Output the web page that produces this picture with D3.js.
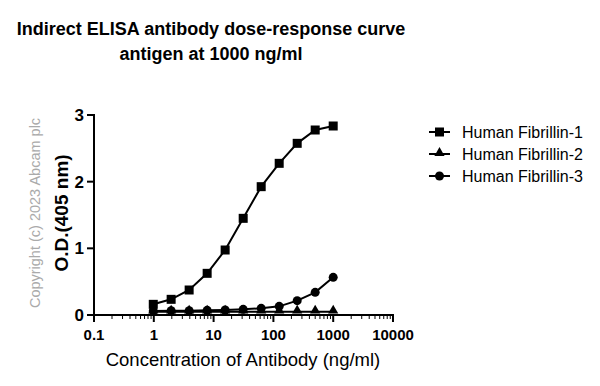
<!DOCTYPE html>
<html>
<head>
<meta charset="utf-8">
<script src="https://cdn.jsdelivr.net/npm/d3@7"></script>
<style>
body { margin: 0; background: #fff; }
text { font-family: "Liberation Sans", Arial, sans-serif; }
</style>
</head>
<body>
<svg id="chart" width="600" height="386"></svg>
<script>
// antibody concentrations (ng/ml), 2-fold dilutions from 1000
var conc = [0.98, 1.95, 3.9, 7.8, 15.6, 31.25, 62.5, 125, 250, 500, 1000];
var fib1 = [0.16, 0.235, 0.375, 0.625, 0.975, 1.45, 1.925, 2.275, 2.575, 2.775, 2.835];
var fib2 = [0.05, 0.05, 0.05, 0.05, 0.05, 0.05, 0.05, 0.05, 0.05, 0.05, 0.05];
var fib3 = [0.06, 0.065, 0.065, 0.07, 0.075, 0.085, 0.1, 0.13, 0.215, 0.34, 0.565];
var seriesNames = ["Human Fibrillin-1", "Human Fibrillin-2", "Human Fibrillin-3"];
var seriesShapes = ["square", "triangle", "circle"];
var xTicks = [0.1, 1, 10, 100, 1000, 10000];
var yTicks = [0, 1, 2, 3];

var svg = d3.select("#chart");

var x = d3.scaleLog().domain([0.1, 10000]).range([94, 393]);
var y = d3.scaleLinear().domain([0, 3]).range([315, 115]);

// titles
svg.append("text").attr("x", 211).attr("y", 35).attr("text-anchor", "middle")
    .style("font-size", "18px").style("font-weight", "bold")
    .text("Indirect ELISA antibody dose-response curve");
svg.append("text").attr("x", 211).attr("y", 60).attr("text-anchor", "middle")
    .style("font-size", "18px").style("font-weight", "bold")
    .text("antigen at 1000 ng/ml");

// x axis with minor ticks
var minor = [];
for (var d = 0.1; d < 10000; d *= 10) {
    for (var k = 2; k <= 9; k++) minor.push(d * k);
}
var xg = svg.append("g").attr("transform", "translate(0,315)");
xg.append("line").attr("x1", 93).attr("x2", 394).attr("stroke", "#000").attr("stroke-width", 2);
xg.selectAll(".minor").data(minor).enter().append("line")
    .attr("x1", function(d) { return x(d); }).attr("x2", function(d) { return x(d); })
    .attr("y1", 0).attr("y2", 4).attr("stroke", "#000").attr("stroke-width", 1);
xg.selectAll(".major").data(xTicks).enter().append("line")
    .attr("x1", function(d) { return x(d); }).attr("x2", function(d) { return x(d); })
    .attr("y1", 0).attr("y2", 7).attr("stroke", "#000").attr("stroke-width", 2);
xg.selectAll(".lbl").data(xTicks).enter().append("text")
    .attr("x", function(d) { return x(d); }).attr("y", 25).attr("text-anchor", "middle")
    .style("font-size", "15px").style("font-weight", "bold")
    .text(function(d) { return d; });

// y axis
var yg = svg.append("g").attr("transform", "translate(94,0)");
yg.append("line").attr("y1", 114).attr("y2", 316).attr("stroke", "#000").attr("stroke-width", 2);
yg.selectAll(".major").data(yTicks).enter().append("line")
    .attr("y1", function(d) { return y(d); }).attr("y2", function(d) { return y(d); })
    .attr("x1", -7).attr("x2", 0).attr("stroke", "#000").attr("stroke-width", 2);
yg.selectAll(".lbl").data(yTicks).enter().append("text")
    .attr("x", -10).attr("y", function(d) { return y(d) + 6; }).attr("text-anchor", "end")
    .style("font-size", "17px").style("font-weight", "bold")
    .text(function(d) { return d; });

// axis titles
svg.append("text").attr("transform", "translate(68,213) rotate(-90)").attr("text-anchor", "middle")
    .style("font-size", "19px").style("font-weight", "bold").text("O.D.(405 nm)");
svg.append("text").attr("x", 243).attr("y", 366).attr("text-anchor", "middle")
    .style("font-size", "18.5px").text("Concentration of Antibody (ng/ml)");
svg.append("text").attr("transform", "translate(40,213) rotate(-90)").attr("text-anchor", "middle")
    .style("font-size", "14.5px").attr("fill", "#aaa").text("Copyright (c) 2023 Abcam plc");

function drawMarker(g, shape, cx, cy) {
    if (shape == "square") {
        g.append("rect").attr("x", cx - 4.5).attr("y", cy - 4.5).attr("width", 9).attr("height", 9).attr("fill", "#000");
    } else if (shape == "triangle") {
        g.append("path").attr("d", d3.symbol().type(d3.symbolTriangle).size(45)())
            .attr("transform", "translate(" + cx + "," + (cy - 1) + ")").attr("fill", "#000");
    } else {
        g.append("circle").attr("cx", cx).attr("cy", cy).attr("r", 4.5).attr("fill", "#000");
    }
}

var line = d3.line().x(function(d) { return x(d[0]); }).y(function(d) { return y(d[1]); });
var allSeries = [fib1, fib2, fib3];
var plot = svg.append("g");
[1, 2, 0].forEach(function(i) {
    var pts = conc.map(function(c, j) { return [c, allSeries[i][j]]; });
    plot.append("path").attr("d", line(pts)).attr("fill", "none").attr("stroke", "#000").attr("stroke-width", 2);
    pts.forEach(function(p) { drawMarker(plot, seriesShapes[i], x(p[0]), y(p[1])); });
});

// legend
var leg = svg.append("g");
seriesNames.forEach(function(name, i) {
    var ly = 132 + i * 22;
    leg.append("line").attr("x1", 429).attr("x2", 450).attr("y1", ly).attr("y2", ly).attr("stroke", "#000").attr("stroke-width", 2);
    drawMarker(leg, seriesShapes[i], 439.5, ly);
    leg.append("text").attr("x", 462).attr("y", ly + 5.5).style("font-size", "16px").text(name);
});
</script>
</body>
</html>
